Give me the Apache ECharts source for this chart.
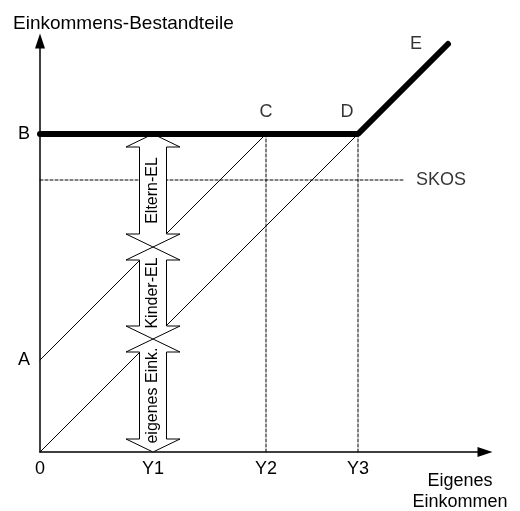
<!DOCTYPE html>
<html>
<head>
<meta charset="utf-8">
<script src="https://cdn.jsdelivr.net/npm/echarts@6/dist/echarts.min.js"></script>
<style>
  html, body { margin: 0; padding: 0; background: #fff; }
  #main { width: 520px; height: 511px; }
</style>
</head>
<body>
<div id="main"></div>
<script>
var myChart = echarts.init(document.getElementById('main'));

// schematic values (one unit ~ one pixel in the original sketch)
var xTickNames = ['0', 'Y1', 'Y2', 'Y3'];
var xTickValues = [0, 113, 226, 318];
var yTickNames = ['A', 'B'];
var yTickValues = [92, 318];
var skosLevel = 272;
var skosEnd = 363;
var ePoint = [408, 408];
var segNames = ['eigenes Eink.', 'Kinder-EL', 'Eltern-EL'];
var segBounds = [[0, 113], [113, 205], [205, 318]];

var font = 'Liberation Sans, Arial, sans-serif';
var Y1 = xTickValues[1], Y2 = xTickValues[2], Y3 = xTickValues[3];
var A = yTickValues[0], B = yTickValues[1];

var arrowData = segBounds.map(function (b) { return [Y1, b[0], b[1]]; });

function lineSeries(data, width, type, z) {
  return {
    type: 'line',
    data: data,
    showSymbol: false,
    silent: true,
    z: z,
    lineStyle: { color: '#000', width: width, type: type, cap: 'round' }
  };
}

option = {
  animation: false,
  title: [
    {
      text: 'Einkommens-Bestandteile',
      left: 8, top: 9,
      textStyle: { fontFamily: font, fontSize: 19, fontWeight: 'normal', color: '#000' }
    },
    {
      text: 'Eigenes\nEinkommen',
      left: 455, top: 466, textAlign: 'center',
      textStyle: { fontFamily: font, fontSize: 18, fontWeight: 'normal', color: '#000', lineHeight: 21 }
    }
  ],
  grid: { left: 40, right: 35, top: 41, bottom: 59 },
  xAxis: {
    type: 'value',
    min: 0, max: 445,
    splitLine: { show: false },
    axisTick: { show: false },
    axisLine: {
      onZero: false,
      symbol: ['none', 'triangle'],
      symbolSize: [10, 15],
      lineStyle: { color: '#000', width: 1.5 }
    },
    axisLabel: {
      customValues: xTickValues,
      margin: 8,
      fontFamily: font, fontSize: 18, color: '#000',
      formatter: function (v) { return xTickNames[xTickValues.indexOf(v)]; }
    }
  },
  yAxis: {
    type: 'value',
    min: 0, max: 411,
    splitLine: { show: false },
    axisTick: { show: false },
    axisLine: {
      onZero: false,
      symbol: ['none', 'triangle'],
      symbolSize: [10, 15],
      lineStyle: { color: '#000', width: 1.5 }
    },
    axisLabel: {
      customValues: yTickValues,
      margin: 10,
      fontFamily: font, fontSize: 18, color: '#000',
      formatter: function (v) { return yTickNames[yTickValues.indexOf(v)]; }
    }
  },
  series: [
    lineSeries([[0, A], [Y2, B]], 1, 'solid', 2),
    lineSeries([[0, 0], [Y3, B]], 1, 'solid', 2),
    lineSeries([[Y2, 0], [Y2, B]], 1, [3, 2], 2),
    lineSeries([[Y3, 0], [Y3, B]], 1, [3, 2], 2),
    lineSeries([[0, skosLevel], [skosEnd, skosLevel]], 1, [3, 2], 2),
    {
      type: 'custom',
      silent: true,
      z: 3,
      data: arrowData,
      renderItem: function (params, api) {
        var p0 = api.coord([api.value(0), api.value(1)]);
        var p1 = api.coord([api.value(0), api.value(2)]);
        var cx = p0[0], yb = p0[1], yt = p1[1];
        var hw = 27, sw = 13.5, hl = 13;
        var pts = [
          [cx, yb], [cx + hw, yb - hl], [cx + sw, yb - hl],
          [cx + sw, yt + hl], [cx + hw, yt + hl], [cx, yt],
          [cx - hw, yt + hl], [cx - sw, yt + hl], [cx - sw, yb - hl],
          [cx - hw, yb - hl]
        ];
        return {
          type: 'group',
          children: [
            { type: 'polygon', shape: { points: pts }, style: { fill: '#fff', stroke: '#000', lineWidth: 1 } },
            {
              type: 'text', x: cx, y: (yb + yt) / 2, rotation: Math.PI / 2,
              style: {
                text: segNames[params.dataIndex], align: 'center', verticalAlign: 'middle',
                font: '16px ' + font, fill: '#000'
              }
            }
          ]
        };
      }
    },
    lineSeries([[0, B], [Y3, B], ePoint], 6, 'solid', 4),
    {
      type: 'scatter',
      silent: true,
      symbolSize: 0,
      z: 5,
      label: { show: true, fontFamily: font, fontSize: 18, color: '#000' },
      data: [
        { value: [Y2, B], label: { formatter: 'C', position: 'top', distance: 13 } },
        { value: [Y3, B], label: { formatter: 'D', position: 'top', distance: 13, offset: [-11, 0] } },
        { value: ePoint, label: { formatter: 'E', position: 'left', distance: 26 } },
        { value: [skosEnd, skosLevel], label: { formatter: 'SKOS', position: 'right', distance: 13 } }
      ]
    }
  ]
};

myChart.setOption(option);
</script>
</body>
</html>
